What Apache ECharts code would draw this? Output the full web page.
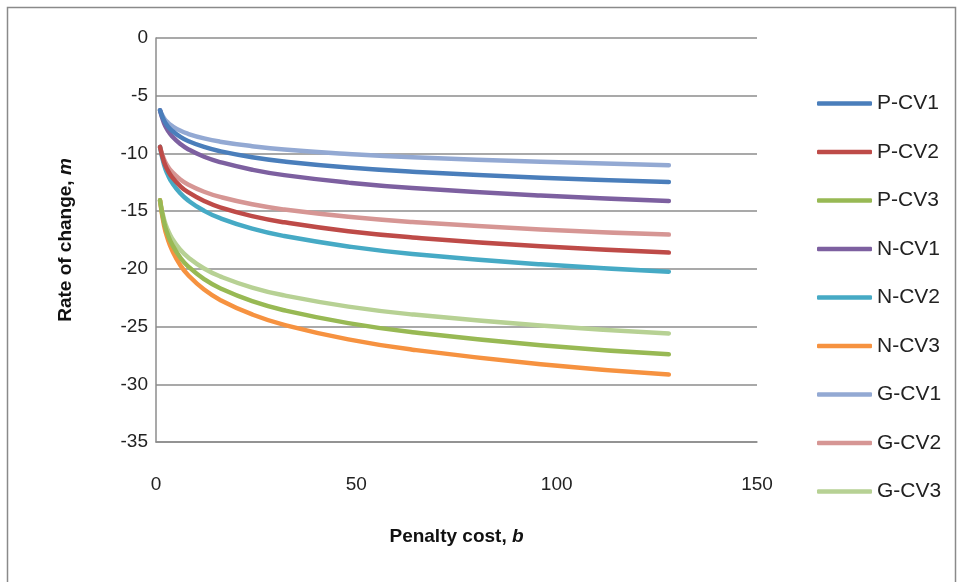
<!DOCTYPE html>
<html>
<head>
<meta charset="utf-8">
<script src="https://cdn.jsdelivr.net/npm/echarts@6/dist/echarts.min.js"></script>
<style>
html,body{margin:0;padding:0;background:#fff;}
#c{width:961px;height:582px;}
</style>
</head>
<body>
<div id="c"></div>
<script>
// Penalty cost b (x values)
const penaltyCost = [1, 2, 3, 4, 6, 8, 12, 16, 24, 32, 48, 64, 96, 128];
// Rate of change m
const pCV1 = [-6.26, -7.15, -7.67, -8.03, -8.55, -8.92, -9.44, -9.81, -10.33, -10.70, -11.22, -11.58, -12.10, -12.47];
const pCV2 = [-9.43, -10.74, -11.51, -12.05, -12.81, -13.36, -14.12, -14.67, -15.43, -15.97, -16.74, -17.28, -18.05, -18.59];
const pCV3 = [-14.06, -15.97, -17.08, -17.87, -18.99, -19.78, -20.89, -21.68, -22.80, -23.59, -24.70, -25.49, -26.61, -27.40];
const nCV1 = [-6.26, -7.38, -8.04, -8.51, -9.16, -9.63, -10.29, -10.75, -11.41, -11.88, -12.53, -13.00, -13.65, -14.12];
const nCV2 = [-9.43, -10.98, -11.88, -12.52, -13.43, -14.07, -14.97, -15.61, -16.52, -17.16, -18.06, -18.71, -19.61, -20.25];
const nCV3 = [-14.06, -16.22, -17.48, -18.37, -19.64, -20.53, -21.79, -22.69, -23.95, -24.85, -26.11, -27.00, -28.26, -29.16];
const gCV1 = [-6.26, -6.94, -7.34, -7.62, -8.02, -8.30, -8.70, -8.98, -9.37, -9.66, -10.05, -10.34, -10.73, -11.02];
const gCV2 = [-9.43, -10.52, -11.15, -11.60, -12.24, -12.69, -13.32, -13.77, -14.41, -14.86, -15.49, -15.94, -16.58, -17.03];
const gCV3 = [-14.06, -15.71, -16.67, -17.36, -18.32, -19.00, -19.97, -20.65, -21.62, -22.30, -23.27, -23.95, -24.91, -25.60];

const seriesNames = ['P-CV1', 'P-CV2', 'P-CV3', 'N-CV1', 'N-CV2', 'N-CV3', 'G-CV1', 'G-CV2', 'G-CV3'];
const seriesValues = [pCV1, pCV2, pCV3, nCV1, nCV2, nCV3, gCV1, gCV2, gCV3];
const seriesColors = ['#4A7EBB', '#BE4B48', '#98B954', '#7D60A0', '#46AAC5', '#F69240', '#93A9D3', '#D69694', '#B7D194'];

const FONT = '"Liberation Sans", Arial, sans-serif';
const chart = echarts.init(document.getElementById('c'), null, {renderer: 'canvas'});

const series = seriesNames.map((name, i) => ({
  name: name,
  type: 'line',
  data: penaltyCost.map((b, j) => [b, seriesValues[i][j]]),
  smooth: 0.5,
  showSymbol: false,
  symbol: 'none',
  color: seriesColors[i],
  lineStyle: {width: 4.5, color: seriesColors[i], cap: 'round', join: 'round'},
  emphasis: {disabled: true},
  z: 10 - i
}));

chart.setOption({
  animation: false,
  backgroundColor: '#fff',
  textStyle: {fontFamily: FONT},
  graphic: [
    {type: 'polyline', shape: {points: [[7.5, 590], [7.5, 7.5], [955.5, 7.5], [955.5, 590]]},
     style: {stroke: '#8a8a8a', lineWidth: 1.5, fill: null}, silent: true}
  ],
  grid: {left: 156, right: 204, top: 38, bottom: 140, containLabel: false},
  legend: {
    orient: 'vertical',
    left: 812,
    top: 88,
    icon: 'roundRect',
    itemWidth: 55,
    itemHeight: 4.5,
    itemGap: 27.5,
    data: seriesNames,
    textStyle: {fontFamily: FONT, fontSize: 21, color: '#222'}
  },
  xAxis: {
    type: 'value',
    min: 0, max: 150, interval: 50,
    axisLine: {show: true, onZero: false, lineStyle: {color: '#8c8c8c', width: 1.5}},
    axisTick: {show: false},
    splitLine: {show: false},
    axisLabel: {fontFamily: FONT, fontSize: 19, color: '#222', margin: 33},
    name: '{a|Penalty cost, }{b|b}',
    nameLocation: 'middle',
    nameGap: 85,
    nameTextStyle: {
      rich: {
        a: {fontFamily: FONT, fontSize: 19, fontWeight: 'bold', color: '#111'},
        b: {fontFamily: FONT, fontSize: 19, fontWeight: 'bold', fontStyle: 'italic', color: '#111'}
      }
    }
  },
  yAxis: {
    type: 'value',
    min: -35, max: 0, interval: 5,
    axisLine: {show: true, onZero: false, lineStyle: {color: '#8c8c8c', width: 1.5}},
    axisTick: {show: false},
    splitLine: {show: true, lineStyle: {color: '#8c8c8c', width: 1.5}},
    axisLabel: {fontFamily: FONT, fontSize: 19, color: '#222', margin: 8},
    name: '{a|Rate of change, }{b|m}',
    nameLocation: 'middle',
    nameGap: 81,
    nameRotate: 90,
    nameTextStyle: {
      rich: {
        a: {fontFamily: FONT, fontSize: 19, fontWeight: 'bold', color: '#111'},
        b: {fontFamily: FONT, fontSize: 19, fontWeight: 'bold', fontStyle: 'italic', color: '#111'}
      }
    }
  },
  series: series
});
</script>
</body>
</html>
